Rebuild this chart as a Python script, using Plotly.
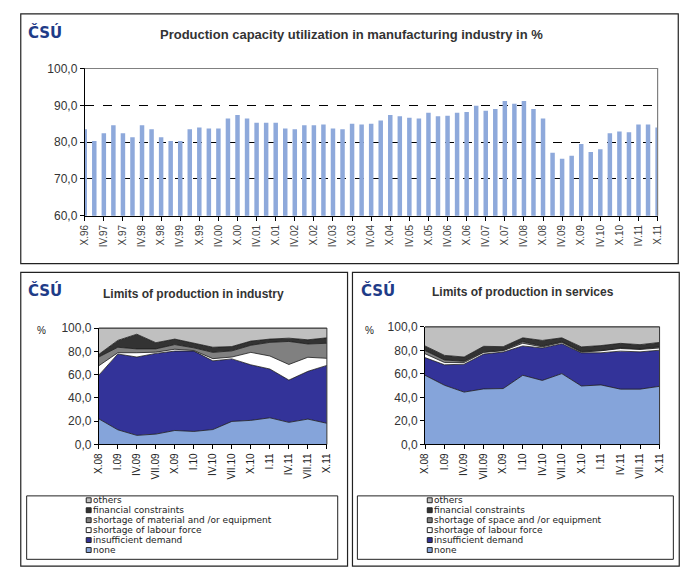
import plotly.graph_objects as go

# ---------------- data ----------------
quarters = ["X.96", "I.97", "IV.97", "VII.97", "X.97", "I.98", "IV.98", "VII.98", "X.98",
            "I.99", "IV.99", "VII.99", "X.99", "I.00", "IV.00", "VII.00", "X.00",
            "I.01", "IV.01", "VII.01", "X.01", "I.02", "IV.02", "VII.02", "X.02",
            "I.03", "IV.03", "VII.03", "X.03", "I.04", "IV.04", "VII.04", "X.04",
            "I.05", "IV.05", "VII.05", "X.05", "I.06", "IV.06", "VII.06", "X.06",
            "I.07", "IV.07", "VII.07", "X.07", "I.08", "IV.08", "VII.08", "X.08",
            "I.09", "IV.09", "VII.09", "X.09", "I.10", "IV.10", "VII.10", "X.10",
            "I.11", "IV.11", "VII.11", "X.11"]
utilization = [83.5, 80.3, 82.4, 84.6, 82.4, 81.3, 84.6, 83.5, 81.3,
               80.3, 80.3, 83.5, 84.0, 83.7, 83.7, 86.4, 87.4,
               86.4, 85.3, 85.3, 85.3, 83.7, 83.5, 84.6, 84.6,
               84.8, 83.7, 83.5, 85.0, 84.8, 85.0, 85.9, 87.4,
               87.0, 86.6, 86.4, 88.0, 87.0, 87.2, 88.0, 88.2,
               89.9, 88.5, 89.0, 91.2, 90.4, 91.2, 89.0, 86.4,
               77.1, 75.5, 76.3, 79.5, 77.3, 78.1, 82.4, 82.9,
               82.7, 84.8, 84.8, 84.0]

periods = ["X.08", "I.09", "IV.09", "VII.09", "X.09", "I.10", "IV.10", "VII.10",
           "X.10", "I.11", "IV.11", "VII.11", "X.11"]

ind_none = [22.0, 12.6, 7.8, 8.9, 12.0, 11.2, 12.8, 19.8, 20.7, 22.9, 19.0, 21.8, 18.2]
ind_demand = [37.5, 65.1, 67.3, 69.3, 68.2, 69.0, 59.0, 53.7, 47.7, 41.9, 36.3, 41.0, 49.7]
ind_labour = [8.1, 1.1, 3.7, 1.1, 1.6, 0.5, 1.9, 1.6, 10.7, 11.2, 13.4, 12.1, 6.1]
ind_material = [7.5, 4.7, 3.3, 2.8, 4.0, 2.3, 5.4, 5.3, 6.1, 11.7, 19.8, 11.4, 12.9]
ind_financial = [2.3, 5.9, 12.6, 5.3, 4.7, 3.9, 4.4, 3.7, 3.6, 2.8, 2.8, 3.6, 4.7]
ind_others = [22.6, 10.6, 5.3, 12.6, 9.5, 13.1, 16.5, 15.9, 11.2, 9.5, 8.7, 10.1, 8.4]

srv_none = [58.8, 50.3, 44.5, 47.2, 47.5, 58.8, 54.4, 60.2, 49.7, 50.6, 47.0, 47.0, 49.4]
srv_demand = [15.0, 17.4, 23.7, 29.6, 31.0, 24.9, 27.6, 25.4, 28.2, 27.3, 32.3, 31.7, 30.7]
srv_labour = [3.3, 1.9, 1.4, 1.4, 1.1, 2.3, 0.9, 1.1, 0.6, 1.7, 2.2, 2.0, 1.9]
srv_space = [2.7, 2.2, 1.1, 0.5, 0.5, 1.3, 0.8, 0.6, 0.5, 0.2, 0.5, 0.5, 0.9]
srv_financial = [3.9, 3.9, 3.6, 4.7, 3.0, 3.3, 4.7, 3.3, 3.9, 4.2, 3.9, 3.6, 3.8]
srv_others = [16.3, 24.3, 25.7, 16.6, 16.9, 9.4, 11.6, 9.4, 17.1, 16.0, 14.1, 15.2, 13.3]

ind_names = ["none", "insufficient demand", "shortage of labour force",
             "shortage of material and /or equipment", "financial constraints", "others"]
srv_names = ["none", "insufficient demand", "shortage of labour force",
             "shortage of space and /or equipment", "financial constraints", "others"]

main_title = "Production capacity utilization in manufacturing industry in %"
ind_title = "Limits of production in industry"
srv_title = "Limits of production in services"
y_top_ticks = [60, 70, 80, 90, 100]
y_low_ticks = [0, 20, 40, 60, 80, 100]

# ---------------- styles ----------------
W, H = 700, 579
FONT = "Liberation Sans, Arial, sans-serif"
LEGFONT = "DejaVu Sans, sans-serif"
layer_colors = ["#85A4DA", "#333399", "#FFFFFF", "#808080", "#333333", "#C0C0C0"]
bar_color = "#8EA9DB"
logo_color = "#1F3C88"


def px(x):
    return x / W


def py(y):
    return 1 - y / H


fig = go.Figure()

# top bar chart
fig.add_trace(go.Bar(x=quarters, y=utilization, marker_color=bar_color,
                     marker_line_width=0, width=0.47, xaxis="x", yaxis="y",
                     showlegend=False, hoverinfo="x+y"))

ind_series = [ind_none, ind_demand, ind_labour, ind_material, ind_financial, ind_others]
srv_series = [srv_none, srv_demand, srv_labour, srv_space, srv_financial, srv_others]

for vals, name, col in zip(ind_series, ind_names, layer_colors):
    fig.add_trace(go.Scatter(x=periods, y=vals, name=name, stackgroup="ind",
                             mode="lines", line=dict(color="#1a1a1a", width=0.8),
                             fillcolor=col, xaxis="x2", yaxis="y2", showlegend=False))
for vals, name, col in zip(srv_series, srv_names, layer_colors):
    fig.add_trace(go.Scatter(x=periods, y=vals, name=name, stackgroup="srv",
                             mode="lines", line=dict(color="#1a1a1a", width=0.8),
                             fillcolor=col, xaxis="x3", yaxis="y3", showlegend=False))

tickfont_y = dict(family=FONT, size=12, color="#333333")

layout = dict(
    width=W, height=H, autosize=False,
    margin=dict(l=0, r=0, t=0, b=0),
    paper_bgcolor="white", plot_bgcolor="white",
    separators=", ",
    showlegend=False,
    bargap=0.5,
    xaxis=dict(domain=[px(80), px(662)], type="category", categoryorder="array",
               categoryarray=quarters, range=[0, len(quarters) - 1],
               tickmode="array", tickvals=quarters[::2], ticktext=quarters[::2],
               tickangle=-90, tickfont=dict(family=FONT, size=10, color="#444444"),
               ticks="outside", ticklen=4, tickcolor="black",
               showline=True, linecolor="black", linewidth=1, showgrid=False,
               anchor="y", fixedrange=True),
    yaxis=dict(domain=[py(214), py(63)], range=[60, 100], tickvals=y_top_ticks,
               tickformat=".1f", tickfont=tickfont_y, ticks="outside", ticklen=4,
               tickcolor="black", showline=True, linecolor="black", linewidth=1,
               showgrid=True, gridcolor="black", griddash="dash", gridwidth=1,
               zeroline=False, anchor="x", fixedrange=True),
)

for xa, ya, x0, x1, y0, y1 in [("xaxis2", "yaxis2", 94.3, 326, 448.3, 329),
                               ("xaxis3", "yaxis3", 425.7, 664, 448.3, 327.7)]:
    anchor_y = "y" + ya[-1]
    anchor_x = "x" + xa[-1]
    layout[xa] = dict(domain=[px(x0), px(x1)], type="category", categoryorder="array",
                      categoryarray=periods, range=[0, len(periods) - 1],
                      tickangle=-90, tickfont=dict(family=FONT, size=10, color="#222222"),
                      ticks="outside", ticklen=4, tickcolor="black",
                      showline=True, linecolor="black", linewidth=1, showgrid=False,
                      anchor=anchor_y, fixedrange=True)
    layout[ya] = dict(domain=[py(y0), py(y1)], range=[0, 100], tickvals=y_low_ticks,
                      tickformat=".1f", tickfont=tickfont_y, ticks="outside", ticklen=4,
                      tickcolor="black", showline=True, linecolor="black", linewidth=1,
                      showgrid=False, zeroline=False, anchor=anchor_x, fixedrange=True)

fig.update_layout(**layout)

shapes = []
# outer frames
for x0, y0, x1, y1 in [(15, 7, 683, 263), (15, 272, 347, 573), (352, 272, 684, 573)]:
    shapes.append(dict(type="rect", xref="paper", yref="paper", x0=px(x0), x1=px(x1),
                       y0=py(y1), y1=py(y0), line=dict(color="#222222", width=1.2)))
# legend frames
for x0, y0, x1, y1 in [(21, 501, 337, 566), (357, 501, 678, 566)]:
    shapes.append(dict(type="rect", xref="paper", yref="paper", x0=px(x0), x1=px(x1),
                       y0=py(y1), y1=py(y0), line=dict(color="#222222", width=1)))
# plot-area borders (top / right)
shapes.append(dict(type="path", xref="paper", yref="paper",
                   path=f"M {px(80)} {py(63)} L {px(662)} {py(63)} L {px(662)} {py(214)}",
                   line=dict(color="#808080", width=1.2)))
for x0, y0, x1, y1 in [(94.3, 329, 326, 448.3), (425.7, 327.7, 664, 448.3)]:
    shapes.append(dict(type="path", xref="paper", yref="paper",
                       path=f"M {px(x0)} {py(y0)} L {px(x1)} {py(y0)} L {px(x1)} {py(y1)}",
                       line=dict(color="#333333", width=1)))

annotations = []
# titles
for txt, cx, cy, size in [(main_title, 351, 28, 13), (ind_title, 190, 294, 12),
                          (srv_title, 525, 292, 12)]:
    annotations.append(dict(text=f"<b>{txt}</b>", x=px(cx), y=py(cy), xref="paper",
                            yref="paper", showarrow=False, xanchor="center", yanchor="middle",
                            font=dict(family=FONT, size=size, color="#333333")))
# logos
for cx, cy in [(40, 26), (40, 291), (378, 291)]:
    annotations.append(dict(text="<b>ČSÚ</b>", x=px(cx), y=py(cy), xref="paper",
                            yref="paper", showarrow=False, xanchor="center", yanchor="middle",
                            font=dict(family="DejaVu Sans, sans-serif", size=15, color=logo_color)))
# % labels
for cx, cy in [(36, 332), (369, 332)]:
    annotations.append(dict(text="%", x=px(cx), y=py(cy), xref="paper", yref="paper",
                            showarrow=False, xanchor="center", yanchor="middle",
                            font=dict(family=FONT, size=10, color="#222222")))

# custom legends (others on top, none at bottom)
row_y = [505.5, 515.7, 525.9, 536.1, 546.3, 556.5]
for names, sq_x in [(ind_names, 81.5), (srv_names, 428)]:
    for i, (name, col) in enumerate(zip(names[::-1], layer_colors[::-1])):
        yy = row_y[i]
        shapes.append(dict(type="rect", xref="paper", yref="paper",
                           x0=px(sq_x), x1=px(sq_x + 5), y0=py(yy + 2.5), y1=py(yy - 2.5),
                           fillcolor=col, line=dict(color="#222222", width=1)))
        annotations.append(dict(text=name, x=px(sq_x + 6), y=py(yy), xref="paper",
                                yref="paper", showarrow=False, xanchor="left",
                                yanchor="middle", borderpad=0,
                                font=dict(family=LEGFONT, size=9, color="#222222")))

fig.update_layout(shapes=shapes, annotations=annotations)
fig.write_html("out.html", config={"displayModeBar": False},
               post_script="document.body.style.margin='0';document.body.style.padding='0';"
                           "document.body.style.overflow='hidden';")
